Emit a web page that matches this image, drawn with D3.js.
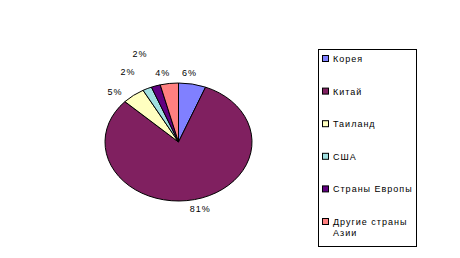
<!DOCTYPE html>
<html>
<head>
<meta charset="utf-8">
<script src="https://cdn.jsdelivr.net/npm/d3@7"></script>
<style>
  body { margin: 0; background: #fff; }
  svg text { font-family: "Liberation Sans", Arial, sans-serif; font-size: 9px; letter-spacing: 1px; }
</style>
</head>
<body>
<div id="chart"></div>
<script>
// DATA
var countries = ["Корея", "Китай", "Таиланд", "США", "Страны Европы", "Другие страны Азии"]
, shares = [6, 81, 5, 2, 2, 4]
, colors = ["#8080ff", "#802060", "#ffffc0", "#a0e0e0", "#600080", "#ff8080"]
, legendLines = [["Корея"], ["Китай"], ["Таиланд"], ["США"], ["Страны Европы"], ["Другие страны", "Азии"]]

// layout
, w = 460
, h = 258
, cx = 178.5
, cy = 142
, rx = 73.5
, ry = 59
// excel's label placement nudges
, labelNudge = [[-5, 1], [3, -2], [-11, 6], [-14, -6], [-12, -20], [-5, 1]];

var svg = d3.select("#chart").append("svg")
	.attr("width", w)
	.attr("height", h);

var pie = d3.pie().sort(null).value(function(d) { return d.v; });
var arcs = pie(shares.map(function(v, i) { return { v: v, i: i }; }));
var arc = d3.arc().innerRadius(0).outerRadius(rx);

var g = svg.append("g")
	.attr("transform", "translate(" + cx + "," + cy + ") scale(1," + (ry / rx) + ")");

g.selectAll("path")
	.data(arcs)
	.enter()
	.append("path")
	.attr("d", arc)
	.attr("fill", function(d) { return colors[d.data.i]; })
	.attr("stroke", "#000")
	.attr("stroke-width", 1)
	.attr("vector-effect", "non-scaling-stroke");

// percent labels
svg.selectAll("text.pct")
	.data(arcs)
	.enter()
	.append("text")
	.attr("class", "pct")
	.attr("text-anchor", "middle")
	.attr("x", function(d, i) {
		var a = (d.startAngle + d.endAngle) / 2;
		return cx + (rx + 12) * Math.sin(a) + labelNudge[i][0];
	})
	.attr("y", function(d, i) {
		var a = (d.startAngle + d.endAngle) / 2;
		return cy - (ry + 12) * Math.cos(a) + labelNudge[i][1] + 3;
	})
	.text(function(d) { return d.data.v + "%"; });

// legend
var legX = 318, legY = 49, legW = 98, legH = 197;
var rowY = d3.scalePoint().domain(d3.range(countries.length)).range([59, 222]);

svg.append("rect")
	.attr("x", legX + 0.5)
	.attr("y", legY + 0.5)
	.attr("width", legW)
	.attr("height", legH)
	.attr("fill", "#fff")
	.attr("stroke", "#000");

var item = svg.selectAll("g.legend")
	.data(countries)
	.enter()
	.append("g")
	.attr("class", "legend");

item.append("rect")
	.attr("x", 322.5)
	.attr("y", function(d, i) { return rowY(i) - 3.5; })
	.attr("width", 6)
	.attr("height", 6)
	.attr("fill", function(d, i) { return colors[i]; })
	.attr("stroke", "#000");

item.append("text")
	.attr("x", 333)
	.attr("y", function(d, i) { return rowY(i) + 3; })
	.each(function(d, i) {
		var t = d3.select(this);
		legendLines[i].forEach(function(line, j) {
			t.append("tspan")
				.attr("x", 333)
				.attr("dy", j === 0 ? 0 : 11)
				.text(line);
		});
	});
</script>
</body>
</html>
